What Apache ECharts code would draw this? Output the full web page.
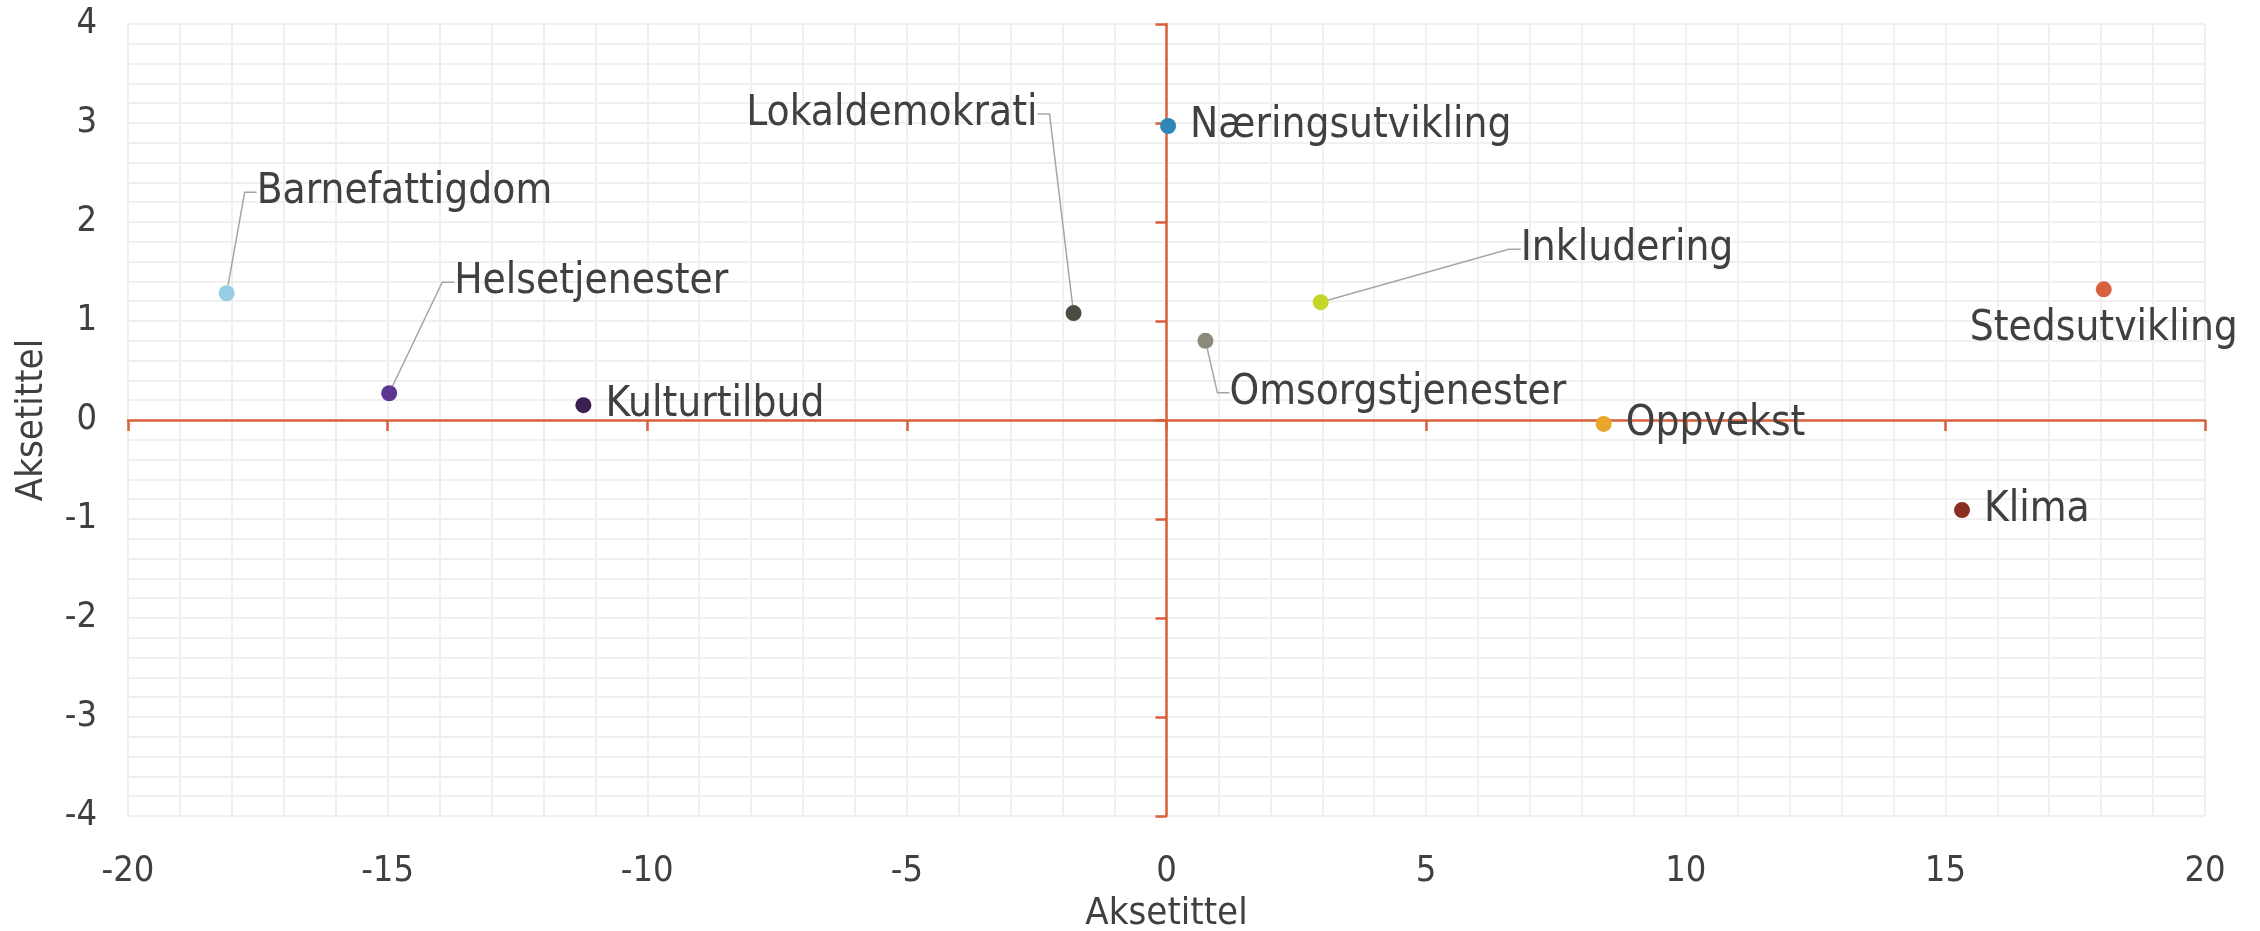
<!DOCTYPE html>
<html>
<head>
<meta charset="utf-8">
<script src="https://cdn.jsdelivr.net/npm/echarts@6/dist/echarts.min.js"></script>
<style>
  html, body { margin: 0; padding: 0; background: #ffffff; }
  #chart { width: 2260px; height: 931px; }
</style>
</head>
<body>
<div id="chart"></div>
<script>
// data
var names = ['Barnefattigdom', 'Helsetjenester', 'Kulturtilbud', 'Lokaldemokrati', 'Næringsutvikling',
             'Omsorgstjenester', 'Inkludering', 'Oppvekst', 'Klima', 'Stedsutvikling'];
var xValues = [-18.1, -14.97, -11.23, -1.79, 0.03, 0.75, 2.97, 8.42, 15.32, 18.05];
var yValues = [1.28, 0.27, 0.15, 1.08, 2.97, 0.80, 1.19, -0.04, -0.91, 1.32];
var colors = ['#95cde5', '#5e3590', '#3a2150', '#4b4b43', '#2e87b8',
              '#8c8a7c', '#c3d62a', '#e8a62a', '#8a2f1f', '#d9603f'];
var xTicks = [-20, -15, -10, -5, 0, 5, 10, 15, 20];
var yTicks = [-4, -3, -2, -1, 0, 1, 2, 3, 4];

var font = '"DejaVu Sans Condensed", "DejaVu Sans", sans-serif';
var textColor = '#404040';
var axisColor = '#d9603b';
var gridColor = '#f0f0f0';

// where each label sits relative to its point (leader line when moved)
var labelSpots = {
  'Barnefattigdom':   { pos: 'right', dx: 8,   dy: -101, line: true },
  'Helsetjenester':   { pos: 'right', dx: 43,  dy: -111, line: true },
  'Kulturtilbud':     { pos: 'right' },
  'Lokaldemokrati':   { pos: 'left',  dx: -14, dy: -199, line: true },
  'Næringsutvikling': { pos: 'right' },
  'Omsorgstjenester': { pos: 'right', dx: 2,   dy: 52,   line: true },
  'Inkludering':      { pos: 'right', dx: 178, dy: -53,  line: true },
  'Oppvekst':         { pos: 'right' },
  'Klima':            { pos: 'right' },
  'Stedsutvikling':   { pos: 'bottom' }
};

var series = [];
for (var i = 0; i < names.length; i++) {
  var spot = labelSpots[names[i]];
  var s = {
    name: names[i],
    type: 'scatter',
    symbolSize: 16,
    itemStyle: { color: colors[i], opacity: 1 },
    data: [[xValues[i], yValues[i]]],
    label: {
      show: true,
      formatter: names[i],
      position: spot.pos,
      distance: spot.pos === 'bottom' ? 11 : 14,
      fontFamily: font,
      fontSize: 42,
      color: textColor
    },
    emphasis: { disabled: true },
    animation: false
  };
  if (spot.line) {
    s.labelLayout = { dx: spot.dx, dy: spot.dy };
    s.labelLine = {
      show: true,
      length2: 12,
      lineStyle: { color: '#a6a6a6', width: 1.5 }
    };
  }
  series.push(s);
}

var myChart = echarts.init(document.getElementById('chart'));

var option = {
  backgroundColor: '#ffffff',
  animation: false,
  grid: {
    left: 128, right: 55, top: 24, bottom: 115,
    containLabel: false,
    outerBoundsMode: 'none'
  },
  xAxis: [
    {
      // labels, title and gridlines along the bottom edge
      type: 'value',
      position: 'bottom',
      min: xTicks[0], max: xTicks[xTicks.length - 1], interval: 5,
      name: 'Aksetittel',
      nameLocation: 'middle',
      nameGap: 74,
      nameTextStyle: { fontFamily: font, fontSize: 38, color: textColor },
      axisLine: { show: false, onZero: false },
      axisTick: { show: false },
      axisLabel: { fontFamily: font, fontSize: 36, color: textColor, margin: 38 },
      splitLine: { show: true, lineStyle: { color: gridColor, width: 2 } },
      minorTick: { show: false, splitNumber: 5 },
      minorSplitLine: { show: true, lineStyle: { color: gridColor, width: 2 } }
    },
    {
      // the axis line crossing y = 0
      type: 'value',
      position: 'bottom',
      min: xTicks[0], max: xTicks[xTicks.length - 1], interval: 5,
      axisLine: { show: true, onZero: true, lineStyle: { color: axisColor, width: 2.5 } },
      axisTick: { show: true, length: 11, lineStyle: { color: axisColor, width: 2.5 } },
      axisLabel: { show: false },
      splitLine: { show: false }
    }
  ],
  yAxis: [
    {
      type: 'value',
      position: 'left',
      min: yTicks[0], max: yTicks[yTicks.length - 1], interval: 1,
      name: 'Aksetittel',
      nameLocation: 'middle',
      nameGap: 77,
      nameTextStyle: { fontFamily: font, fontSize: 38, color: textColor },
      axisLine: { show: false, onZero: false },
      axisTick: { show: false },
      axisLabel: { fontFamily: font, fontSize: 36, color: textColor, margin: 31 },
      splitLine: { show: true, lineStyle: { color: gridColor, width: 2 } },
      minorTick: { show: false, splitNumber: 5 },
      minorSplitLine: { show: true, lineStyle: { color: gridColor, width: 2 } }
    },
    {
      // the axis line crossing x = 0
      type: 'value',
      position: 'left',
      min: yTicks[0], max: yTicks[yTicks.length - 1], interval: 1,
      axisLine: { show: true, onZero: true, lineStyle: { color: axisColor, width: 2.5 } },
      axisTick: { show: true, length: 11, lineStyle: { color: axisColor, width: 2.5 } },
      axisLabel: { show: false },
      splitLine: { show: false }
    }
  ],
  series: series
};

myChart.setOption(option);
</script>
</body>
</html>
